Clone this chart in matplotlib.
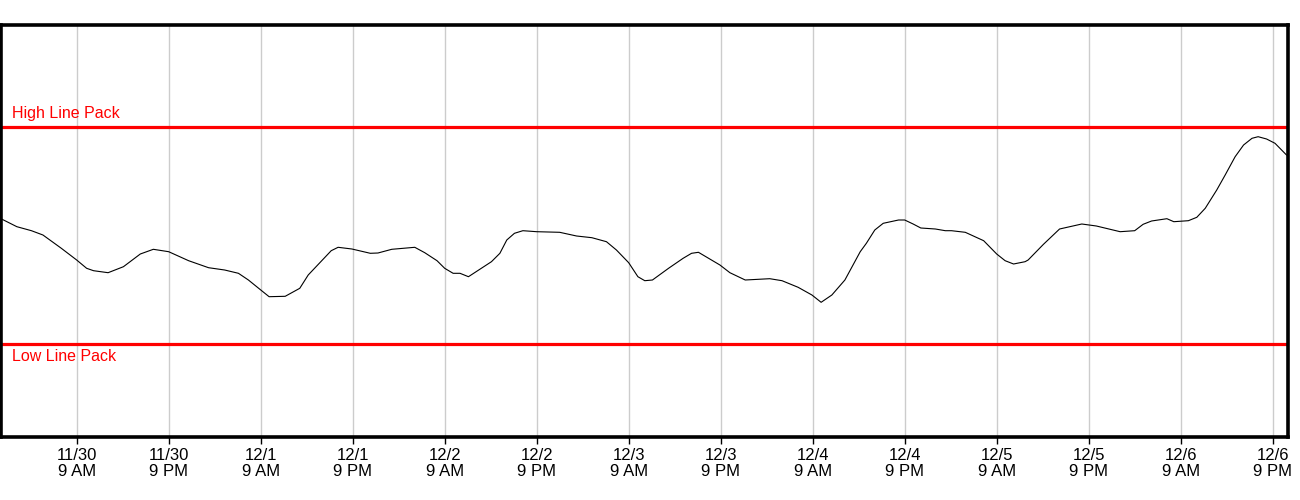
import datetime as dt
import matplotlib
matplotlib.use("Agg")
import matplotlib.pyplot as plt
import matplotlib.dates as mdates

plt.rcParams['font.family'] = ['Liberation Sans', 'DejaVu Sans']

start = dt.datetime(2024, 11, 30, 0, 0)

# hours after 11/30 00:00, line pack value (chart units)
hours = [-0.8, 1.2, 3.1, 4.6, 7.0, 9.0, 10.3, 11.2, 13.1, 15.1, 17.3, 19.0, 21.0,
         23.6, 26.2, 28.3, 30.1, 31.4, 32.9, 34.1, 36.2, 38.1, 39.2, 42.2, 43.1,
         44.9, 47.3, 48.3, 50.1, 53.1, 54.4, 56.0, 57.0, 58.1, 59.0, 60.1, 63.1,
         64.2, 65.1, 66.1, 67.2, 69.0, 72.0, 74.2, 76.2, 78.1, 79.4, 81.0, 82.2,
         83.1, 84.1, 86.2, 88.1, 89.2, 90.1, 92.9, 94.2, 96.2, 99.4, 101.0, 103.1,
         104.9, 106.1, 107.5, 109.2, 111.2, 112.0, 113.1, 114.2, 116.2, 117.0,
         118.1, 119.1, 121.0, 122.3, 123.1, 124.9, 127.3, 129.0, 130.1, 131.2,
         132.7, 133.1, 135.1, 137.2, 140.1, 142.0, 145.1, 147.0, 148.1, 149.2,
         151.2, 152.1, 154.0, 155.1, 156.2, 157.7, 158.8, 160.1, 161.2, 162.3,
         163.1, 164.2, 165.3, 166.8]
pack = [218.3, 210.6, 206.6, 202.3, 189.0, 177.3, 169.0, 166.6, 164.6, 170.6,
        183.3, 188.0, 185.6, 176.6, 169.6, 167.3, 164.0, 157.3, 148.0, 140.6,
        141.0, 149.0, 162.3, 186.6, 190.0, 188.3, 184.0, 184.3, 188.0, 190.0,
        184.6, 176.6, 169.0, 164.0, 164.0, 160.6, 175.6, 184.0, 197.3, 204.0,
        206.6, 205.6, 205.0, 201.3, 199.6, 195.6, 187.3, 174.6, 160.6, 156.6,
        157.3, 169.0, 179.0, 184.0, 185.0, 172.3, 164.6, 157.3, 158.6, 156.6,
        150.0, 142.3, 135.0, 142.3, 157.3, 185.6, 194.0, 207.3, 214.0, 217.3,
        217.3, 213.3, 209.3, 208.3, 206.6, 206.6, 205.0, 196.6, 183.3, 176.6,
        173.3, 175.6, 177.3, 193.0, 208.3, 213.3, 211.3, 205.6, 206.6, 213.0,
        216.3, 218.6, 215.6, 216.6, 220.0, 229.0, 247.3, 262.3, 280.6, 292.3,
        299.0, 300.6, 298.3, 294.0, 282.3]

high_pack = 310.6
low_pack = 93.1
high_label = "High Line Pack"
low_label = "Low Line Pack"

times = [start + dt.timedelta(hours=h) for h in hours]
tick_times = [start + dt.timedelta(hours=9 + 12 * i) for i in range(14)]
x_min = start + dt.timedelta(hours=-0.83)
x_max = start + dt.timedelta(hours=167.0)

fig = plt.figure(figsize=(13, 5), dpi=100)
ax = fig.add_axes([0.001, 0.1254, 0.9898, 0.8236])

ax.plot(times, pack, color='black', lw=0.8, zorder=3)
ax.axhline(high_pack, color='#ff0000', lw=2.3, zorder=2)
ax.axhline(low_pack, color='#ff0000', lw=2.3, zorder=2)

ax.set_xlim(x_min, x_max)
ax.set_ylim(0, 411.8)

ax.set_xticks(tick_times)
ax.set_xticklabels([f"{t.month}/{t.day}\n{t.hour % 12 or 12} {'AM' if t.hour < 12 else 'PM'}"
                    for t in tick_times], fontsize=12, linespacing=1.05)
ax.tick_params(axis='x', length=5, width=1, color='black', pad=3)
ax.set_yticks([])
ax.grid(axis='x', color='#cccccc', lw=1)
ax.set_axisbelow(True)

for s in ax.spines.values():
    s.set_linewidth(2.6)
    s.set_color('black')
    s.set_zorder(5)

ax.text(0.008, high_pack + 6, high_label, color='#ff0000', fontsize=11.5,
        transform=ax.get_yaxis_transform(), va='bottom', ha='left')
ax.text(0.008, low_pack - 5, low_label, color='#ff0000', fontsize=11.5,
        transform=ax.get_yaxis_transform(), va='top', ha='left')

fig.savefig("out.png", dpi=100)
